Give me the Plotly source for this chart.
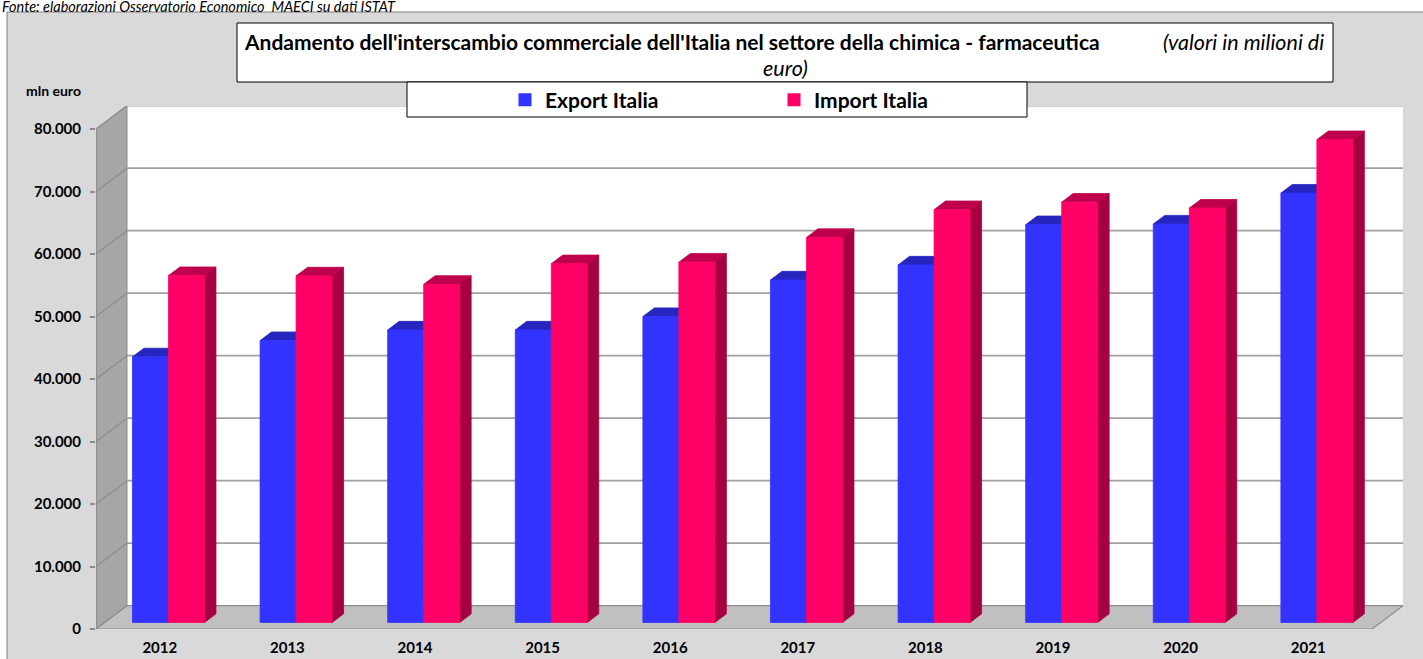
import plotly.graph_objects as go

# ---------------- data ----------------
years = ["2012", "2013", "2014", "2015", "2016", "2017", "2018", "2019", "2020", "2021"]
export_italia = [42500, 45100, 46800, 46800, 48950, 54800, 57200, 63650, 63750, 68700]
import_italia = [55500, 55450, 54100, 57400, 57650, 61600, 66050, 67250, 66300, 77250]
y_tick_values = [0, 10000, 20000, 30000, 40000, 50000, 60000, 70000, 80000]
y_tick_labels = ["0", "10.000", "20.000", "30.000", "40.000", "50.000", "60.000", "70.000", "80.000"]

# ---------------- geometry / styling ----------------
W, H = 1423, 659
ML, MR, MT, MB = 96, 20, 106, 30
PW, PH = W - ML - MR, H - MT - MB
PX_PER_CAT = 127.6
PX_PER_UNIT = 62.5 / 10000
X0 = -0.5
XMAX = X0 + PW / PX_PER_CAT
YMAX = PH / PX_PER_UNIT
DX = 31 / PX_PER_CAT          # depth of the 3D box in category units
DY = 23.3 / PX_PER_UNIT       # depth of the 3D box in value units
BAR_W = 36 / PX_PER_CAT
BAR_FRONT = 0.28
BAR_DEPTH = 0.37
NCAT = len(years)
XEND = X0 + NCAT

FONT = "Lato"
C_EXP = dict(front="#3333FF", top="#2626BF", side="#1F1F99")
C_IMP = dict(front="#FF0066", top="#BF004C", side="#A50040")
GRID = "#A0A0A0"
EDGE = "#8C8C8C"


def xp(px):
    return (px - ML) / PW


def yp(py):
    return (H - MB - py) / PH


def faces(values, slot):
    fx, fy, tx, ty, sx, sy = [], [], [], [], [], []
    ox, oy = BAR_DEPTH * DX, BAR_DEPTH * DY
    for i, v in enumerate(values):
        x0 = i - BAR_W + slot * BAR_W + BAR_FRONT * DX
        x1 = x0 + BAR_W
        yb = BAR_FRONT * DY
        yt = yb + v
        fx += [x0, x1, x1, x0, x0, None]
        fy += [yb, yb, yt, yt, yb, None]
        tx += [x0, x1, x1 + ox, x0 + ox, x0, None]
        ty += [yt, yt, yt + oy, yt + oy, yt, None]
        sx += [x1, x1 + ox, x1 + ox, x1, x1, None]
        sy += [yb, yb + oy, yt + oy, yt, yb, None]
    return (fx, fy), (tx, ty), (sx, sy)


fig = go.Figure()

for name, vals, slot, col in [("Export Italia", export_italia, 0, C_EXP),
                              ("Import Italia", import_italia, 1, C_IMP)]:
    front, top, side = faces(vals, slot)
    for (xs, ys), c in [(side, col["side"]), (top, col["top"]), (front, col["front"])]:
        fig.add_trace(go.Scatter(x=xs, y=ys, mode="lines", fill="toself",
                                 fillcolor=c, line=dict(color=c, width=0.8),
                                 hoverinfo="skip", showlegend=False))

# legend proxies
for name, col in [("Export Italia", C_EXP), ("Import Italia", C_IMP)]:
    fig.add_trace(go.Scatter(x=[None], y=[None], mode="markers", name=name,
                             marker=dict(symbol="square", size=13, color=col["front"])))

shapes = []
# outer chart area
shapes.append(dict(type="rect", xref="paper", yref="paper", layer="below",
                   x0=xp(7), x1=xp(1424), y0=yp(12), y1=yp(661),
                   fillcolor="#D9D9D9", line=dict(color="#808080", width=1)))
# back wall
shapes.append(dict(type="rect", xref="x", yref="y", layer="below",
                   x0=X0 + DX, x1=XEND + DX, y0=DY, y1=y_tick_values[-1] + DY,
                   fillcolor="white", line=dict(width=0)))
# left wall
shapes.append(dict(type="path", xref="x", yref="y", layer="below",
                   path=f"M{X0},0 L{X0},{y_tick_values[-1]} L{X0 + DX},{y_tick_values[-1] + DY} L{X0 + DX},{DY} Z",
                   fillcolor="#A6A6A6", line=dict(color=EDGE, width=1)))
# floor
shapes.append(dict(type="path", xref="x", yref="y", layer="below",
                   path=f"M{X0},0 L{XEND},0 L{XEND + DX},{DY} L{X0 + DX},{DY} Z",
                   fillcolor="#C0C0C0", line=dict(color=EDGE, width=1.2)))
# gridlines
for v in y_tick_values[1:]:
    shapes.append(dict(type="line", xref="x", yref="y", layer="below",
                       x0=X0 + DX, x1=XEND + DX, y0=v + DY, y1=v + DY,
                       line=dict(color=GRID, width=1.8)))
    shapes.append(dict(type="line", xref="x", yref="y", layer="below",
                       x0=X0, x1=X0 + DX, y0=v, y1=v + DY,
                       line=dict(color=EDGE, width=1.2)))
# front-left axis line
shapes.append(dict(type="line", xref="x", yref="y", layer="below",
                   x0=X0, x1=X0, y0=0, y1=y_tick_values[-1],
                   line=dict(color=EDGE, width=1.5)))
# title box and legend box
shapes.append(dict(type="rect", xref="paper", yref="paper", layer="above",
                   x0=xp(237), x1=xp(1333), y0=yp(82), y1=yp(23),
                   fillcolor="white", line=dict(color="black", width=1)))
shapes.append(dict(type="rect", xref="paper", yref="paper", layer="above",
                   x0=xp(407), x1=xp(1027), y0=yp(117), y1=yp(82),
                   fillcolor="white", line=dict(color="black", width=1)))

annotations = [
    dict(text="<b>Andamento dell'interscambio commerciale dell'Italia nel settore della chimica - farmaceutica</b>",
         xref="paper", yref="paper", x=xp(242), y=yp(42), xanchor="left", yanchor="middle",
         showarrow=False, font=dict(family=FONT, size=21, color="black")),
    dict(text="<i>(valori in milioni di</i>",
         xref="paper", yref="paper", x=xp(1326), y=yp(42), xanchor="right", yanchor="middle",
         showarrow=False, font=dict(family=FONT, size=21.5, color="black")),
    dict(text="<i>euro)</i>",
         xref="paper", yref="paper", x=xp(785), y=yp(68), xanchor="center", yanchor="middle",
         showarrow=False, font=dict(family=FONT, size=21.5, color="black")),
    dict(text="<b>mln euro</b>",
         xref="paper", yref="paper", x=xp(53), y=yp(90), xanchor="center", yanchor="middle",
         showarrow=False, font=dict(family=FONT, size=14, color="black")),
    dict(text="<i>Fonte: elaborazioni Osservatorio Economico  MAECI su dati ISTAT</i>",
         xref="paper", yref="paper", x=xp(0), y=yp(6.5), xanchor="left", yanchor="middle",
         showarrow=False, font=dict(family=FONT, size=14.5, color="black")),
]

fig.update_layout(
    width=W, height=H, autosize=False,
    margin=dict(l=ML, r=MR, t=MT, b=MB, autoexpand=False),
    paper_bgcolor="white", plot_bgcolor="rgba(0,0,0,0)",
    shapes=shapes, annotations=annotations,
    showlegend=True,
    legend=dict(orientation="h", x=xp(505), y=yp(100), xanchor="left", yanchor="middle",
                bgcolor="rgba(0,0,0,0)", entrywidth=224, entrywidthmode="pixels",
                font=dict(family=FONT, size=21, color="black", weight="bold"),
                itemclick=False, itemdoubleclick=False),
    xaxis=dict(range=[X0, XMAX], tickvals=list(range(NCAT)), ticktext=years,
               showgrid=False, zeroline=False, showline=False, ticks="",
               tickfont=dict(family=FONT, size=15, color="black", weight="bold"),
               ticklabelstandoff=8, fixedrange=True, automargin=False),
    yaxis=dict(range=[0, YMAX], tickvals=y_tick_values, ticktext=y_tick_labels,
               showgrid=False, zeroline=False, showline=False,
               ticks="outside", ticklen=5, tickcolor=EDGE, tickwidth=1.5,
               tickfont=dict(family=FONT, size=15, color="black", weight="bold"),
               ticklabelstandoff=6, fixedrange=True, automargin=False),
    hovermode=False,
)

fig.write_html("out.html", config={"displayModeBar": False},
               post_script="document.body.style.margin='0';")
